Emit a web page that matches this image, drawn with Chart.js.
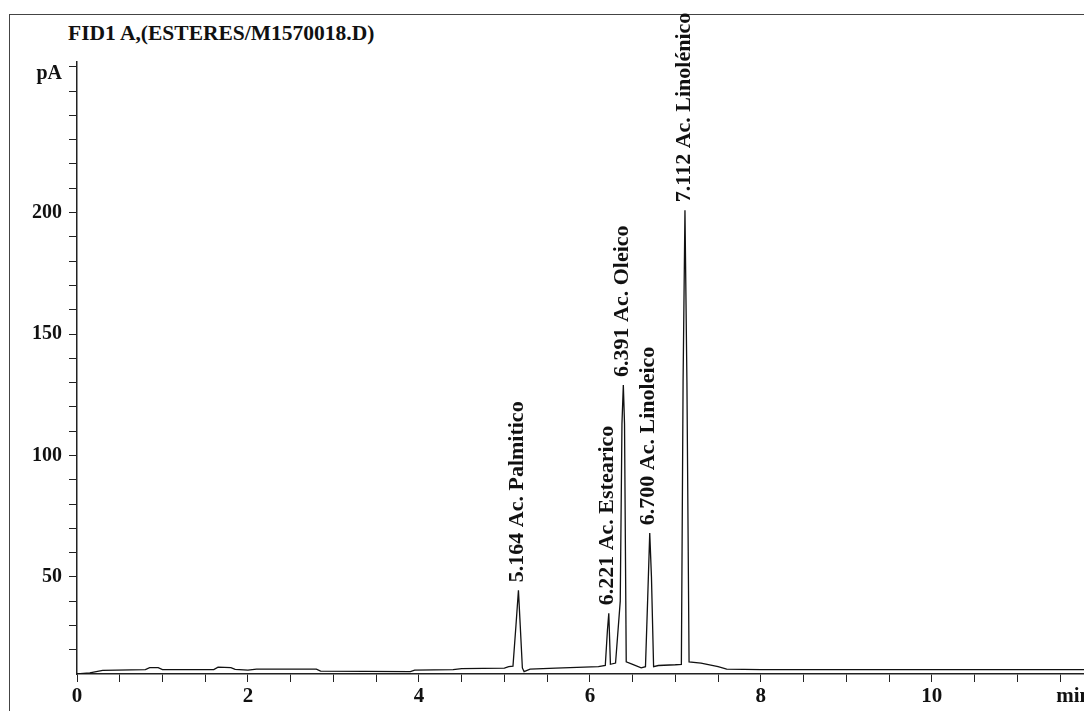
<!DOCTYPE html>
<html>
<head>
<meta charset="utf-8">
<script src="https://cdn.jsdelivr.net/npm/chart.js@4"></script>
<style>
  html, body { margin: 0; padding: 0; background: #fff; overflow: hidden; }
  #wrap { position: relative; width: 1084px; height: 711px; }
  #frame { position: absolute; left: 9px; top: 14px; width: 1200px; height: 800px; border: 1px solid #444; }
  #title {
    position: absolute; left: 68px; top: 23px;
    font: bold 21.5px "Liberation Serif", serif; line-height: 21px; color: #111;
  }
  #chart { position: absolute; left: 0; top: 0; }
</style>
</head>
<body>
<div id="wrap">
  <div id="frame"></div>
  <div id="title">FID1 A,(ESTERES/M1570018.D)</div>
  <canvas id="chart" width="1084" height="711"></canvas>
</div>
<script>
// retention time (min) and detector signal (pA)
const retentionTimes = [0.00, 0.15, 0.30, 0.80, 0.85, 0.95, 1.00, 1.60, 1.65, 1.80, 1.85, 2.00, 2.10, 2.80, 2.85, 3.90, 3.95, 4.40, 4.50, 5.00, 5.05, 5.10, 5.135, 5.164, 5.185, 5.21, 5.23, 5.30, 5.60, 6.10, 6.18, 6.205, 6.221, 6.24, 6.30, 6.355, 6.375, 6.391, 6.405, 6.425, 6.50, 6.60, 6.65, 6.675, 6.700, 6.72, 6.745, 6.80, 7.00, 7.07, 7.09, 7.112, 7.135, 7.16, 7.30, 7.50, 7.60, 8.00, 11.78];
const signal = [10.0, 10.5, 11.5, 11.8, 12.6, 12.6, 11.8, 11.8, 12.8, 12.6, 11.9, 11.6, 12.0, 12.0, 11.2, 11.0, 11.6, 11.8, 12.2, 12.4, 13.0, 13.2, 30, 44.5, 30, 12.5, 11.0, 12.0, 12.4, 13.0, 13.5, 28, 35, 14, 14.5, 40, 113, 129, 113, 15, 14, 12.5, 13, 40, 68, 50, 13, 13.5, 13.8, 14, 130, 201, 130, 15, 14.5, 13.0, 12.0, 11.8, 11.8];

const peakTimes = [5.164, 6.221, 6.391, 6.700, 7.112];
const peakHeights = [44.5, 35, 129, 68, 201];
const peakNames = ["Ac. Palmitico", "Ac. Estearico", "Ac. Oleico", "Ac. Linoleico", "Ac. Linolénico"];

const xTicks = [0, 0.5, 1, 1.5, 2, 2.5, 3, 3.5, 4, 4.5, 5, 5.5, 6, 6.5, 7, 7.5, 8, 8.5, 9, 9.5, 10, 10.5, 11, 11.5, 11.66];
const xLabelled = [0, 2, 4, 6, 8, 10];
const xUnitTick = 11.66;
const yTicks = [20, 30, 40, 50, 60, 70, 80, 90, 100, 110, 120, 130, 140, 150, 160, 170, 180, 190, 200, 210, 220, 230, 240, 250, 257, 260];
const yLabelled = [50, 100, 150, 200];
const yUnitTick = 257;

const serif = '"Liberation Serif", "Times New Roman", serif';

const peakLabels = {
  id: "peakLabels",
  afterDatasetsDraw(chart) {
    const { ctx, scales: { x, y } } = chart;
    ctx.save();
    ctx.font = "bold 22px " + serif;
    ctx.fillStyle = "#111";
    ctx.textAlign = "left";
    ctx.textBaseline = "middle";
    peakTimes.forEach((t, i) => {
      const px = x.getPixelForValue(t);
      const py = y.getPixelForValue(peakHeights[i]);
      ctx.save();
      ctx.translate(px - 1, py - 8);
      ctx.rotate(-Math.PI / 2);
      ctx.fillText(t.toFixed(3) + " " + peakNames[i], 0, 0);
      ctx.restore();
    });
    ctx.restore();
  }
};

new Chart(document.getElementById("chart"), {
  type: "line",
  data: {
    datasets: [{
      data: retentionTimes.map((t, i) => ({ x: t, y: signal[i] })),
      borderColor: "#111",
      borderWidth: 1.3,
      pointRadius: 0,
      tension: 0,
      fill: false
    }]
  },
  options: {
    responsive: false,
    animation: false,
    layout: { padding: { top: 62, right: 0, bottom: 0, left: 0 } },
    plugins: { legend: { display: false }, tooltip: { enabled: false } },
    scales: {
      x: {
        type: "linear",
        min: 0,
        max: 11.78,
        afterBuildTicks: s => { s.ticks = xTicks.map(v => ({ value: v })); },
        afterFit: s => { s.height = 37; s.paddingLeft = 0; s.paddingRight = 0; },
        border: { color: "#222", width: 1.5 },
        grid: {
          drawOnChartArea: false,
          drawTicks: true,
          tickLength: 8,
          tickColor: c => (c.tick && c.tick.value === xUnitTick) ? "rgba(0,0,0,0)" : "#222"
        },
        ticks: {
          autoSkip: false,
          maxRotation: 0,
          padding: 2,
          color: "#111",
          font: { family: serif, size: 21, weight: "bold" },
          callback: v => xLabelled.includes(v) ? String(v) : (v === xUnitTick ? "min" : "")
        }
      },
      y: {
        min: 10,
        max: 262,
        afterBuildTicks: s => { s.ticks = yTicks.map(v => ({ value: v })); },
        afterFit: s => { s.width = 77; s.paddingTop = 0; s.paddingBottom = 0; },
        border: { color: "#222", width: 1.5 },
        grid: {
          drawOnChartArea: false,
          drawTicks: true,
          tickLength: 8,
          tickColor: c => (c.tick && c.tick.value === yUnitTick) ? "rgba(0,0,0,0)" : "#222"
        },
        ticks: {
          autoSkip: false,
          padding: 7,
          color: "#111",
          font: { family: serif, size: 20, weight: "bold" },
          callback: v => yLabelled.includes(v) ? String(v) : (v === yUnitTick ? "pA" : "")
        }
      }
    }
  },
  plugins: [peakLabels]
});
</script>
</body>
</html>
